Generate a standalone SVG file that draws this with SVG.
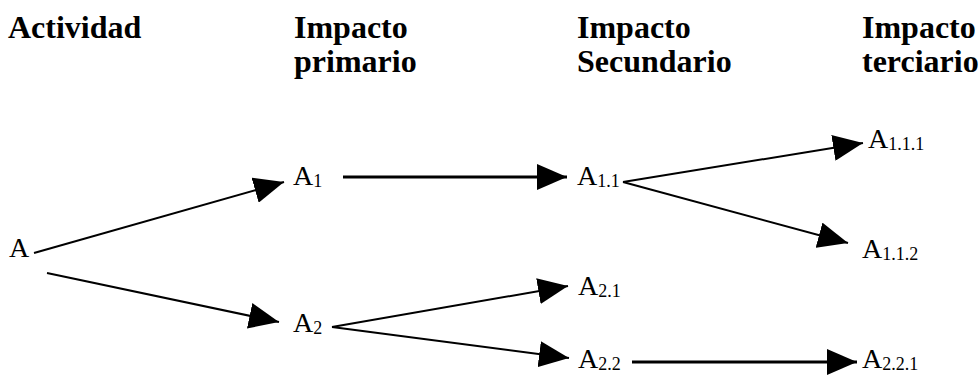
<svg xmlns="http://www.w3.org/2000/svg" width="979" height="375" viewBox="0 0 979 375">
  <style>
    text { font-family: 'Liberation Serif', 'Times New Roman', serif; fill: #000; }
    .head { font-weight: bold; font-size: 32px; }
    .node { font-size: 28px; }
    .sub { font-size: 18px; }
    .edge { stroke: #000; stroke-width: 2; fill: none; marker-end: url(#arrow); }
    .edge.bold { stroke-width: 3; }
  </style>
  <defs>
    <marker id="arrow" markerUnits="userSpaceOnUse" markerWidth="30" markerHeight="26" refX="30" refY="13" orient="auto">
      <path d="M0,0 L30,13 L0,26 z" fill="#000"/>
    </marker>
  </defs>
  <rect width="979" height="375" fill="#fff"/>

  <!-- column headings -->
  <g id="headings">
    <text class="head" x="8" y="38">Actividad</text>
    <text class="head" x="294" y="38">Impacto</text>
    <text class="head" x="294" y="72">primario</text>
    <text class="head" x="577" y="38">Impacto</text>
    <text class="head" x="577" y="72">Secundario</text>
    <text class="head" x="862" y="38">Impacto</text>
    <text class="head" x="862" y="72">terciario</text>
  </g>

  <!-- connectors -->
  <g id="connectors">
    <line class="edge" x1="34" y1="253" x2="284" y2="182"/>
    <line class="edge" x1="47" y1="273" x2="279" y2="322"/>
    <line class="edge bold" x1="343" y1="177" x2="567" y2="177"/>
    <line class="edge" x1="623" y1="182" x2="863" y2="143"/>
    <line class="edge" x1="623" y1="182" x2="848" y2="243"/>
    <line class="edge" x1="332" y1="327" x2="568" y2="286"/>
    <line class="edge" x1="332" y1="327" x2="569" y2="358"/>
    <line class="edge bold" x1="632" y1="362" x2="857" y2="362"/>
  </g>

  <!-- nodes -->
  <g id="node-A"><text class="node" x="9" y="257">A</text></g>
  <g id="node-A1"><text class="node" x="293" y="185">A<tspan class="sub" dy="2">1</tspan></text></g>
  <g id="node-A2"><text class="node" x="293" y="332">A<tspan class="sub" dy="2">2</tspan></text></g>
  <g id="node-A11"><text class="node" x="577" y="185">A<tspan class="sub" dy="2">1.1</tspan></text></g>
  <g id="node-A21"><text class="node" x="578" y="295">A<tspan class="sub" dy="2">2.1</tspan></text></g>
  <g id="node-A22"><text class="node" x="578" y="368">A<tspan class="sub" dy="2">2.2</tspan></text></g>
  <g id="node-A111"><text class="node" x="868" y="148">A<tspan class="sub" dy="2">1.1.1</tspan></text></g>
  <g id="node-A112"><text class="node" x="862" y="258">A<tspan class="sub" dy="2">1.1.2</tspan></text></g>
  <g id="node-A221"><text class="node" x="862" y="368">A<tspan class="sub" dy="2">2.2.1</tspan></text></g>
</svg>
